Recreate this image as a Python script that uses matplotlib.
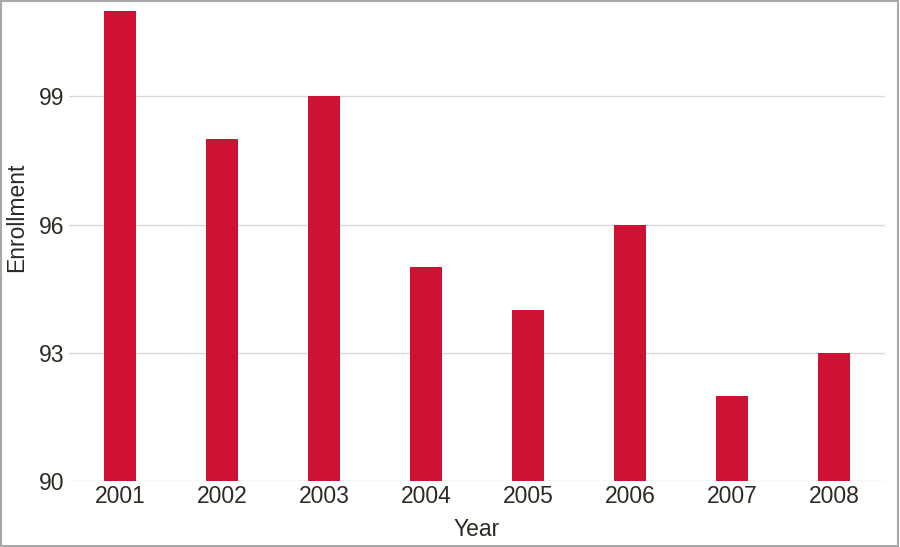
import matplotlib.pyplot as plt
from matplotlib.patches import Rectangle

years = ['2001', '2002', '2003', '2004', '2005', '2006', '2007', '2008']
enrollment = [101, 98, 99, 95, 94, 96, 92, 93]
yticks = [90, 93, 96, 99]

plt.rcParams['font.family'] = ['Liberation Sans', 'DejaVu Sans']
text_color = '#2b2b24'

fig = plt.figure(figsize=(9, 5.47), dpi=100)
ax = fig.add_axes([0.0767, 0.1207, 0.9066, 0.875])

x = list(range(len(years)))
ax.bar(x, [v - 90 for v in enrollment], bottom=90, width=0.31, color='#cf1234', zorder=3)

ax.set_xlim(-0.5, len(years) - 0.5)
ax.set_ylim(90, 101.2)
ax.set_yticks(yticks)
ax.set_yticklabels([str(t) for t in yticks])
ax.set_xticks(x)
ax.set_xticklabels(years)
ax.yaxis.grid(True, color='#d9d9d9', linewidth=1, zorder=0)
for s in ax.spines.values():
    s.set_visible(False)
ax.tick_params(axis='both', length=0, labelsize=16.5, colors=text_color)
ax.tick_params(axis='y', pad=3.5)
ax.tick_params(axis='x', pad=3)

ax.set_xlabel('Year', fontsize=16.5, color=text_color, labelpad=7)
ax.set_ylabel('Enrollment', fontsize=16.5, color=text_color)
ax.yaxis.set_label_coords(-0.05, 0.55)

fig.patches.append(Rectangle((0.001, 0.002), 0.997, 0.996, transform=fig.transFigure,
                             fill=False, edgecolor='#a8a8a8', linewidth=1.5))

fig.savefig('out.png', dpi=100)
